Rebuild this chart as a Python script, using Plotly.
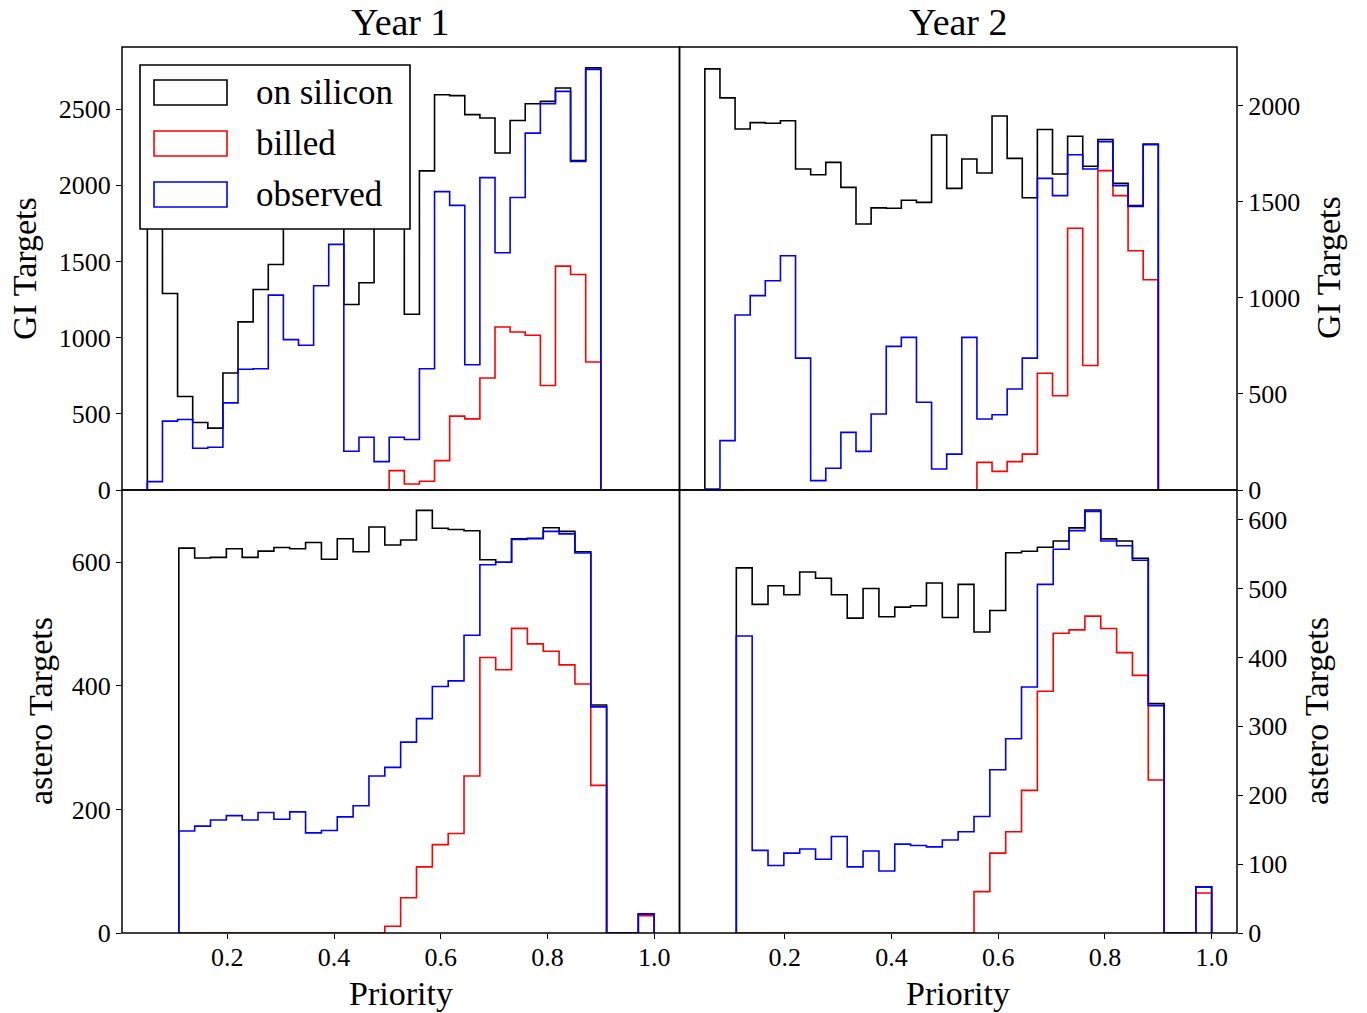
import numpy as np
import plotly.graph_objects as go
from plotly.subplots import make_subplots

# ---------------- data ----------------
series_names = ["on silicon", "billed", "observed"]

# Year 1, GI targets (30 bins, priority 0.05 .. 0.90)
gi_bins = (0.05, 0.90)
gi_y1_silicon = [1900, 1289, 614, 443, 406, 768, 1103, 1316, 1480, 1750, 1900, 1850, 1950, 1217, 1360,
                 1800, 1850, 1153, 2094, 2594, 2588, 2463, 2441, 2211, 2425, 2535, 2550, 2638, 2162, 2770]
gi_y1_billed = [0, 0, 0, 0, 0, 0, 0, 0, 0, 0, 0, 0, 0, 0, 0,
                0, 127, 39, 57, 193, 485, 467, 735, 1070, 1037, 1015, 686, 1469, 1414, 840]
gi_y1_observed = [55, 452, 463, 274, 281, 572, 792, 796, 1279, 987, 950, 1340, 1612, 254, 346,
                  186, 346, 331, 796, 1958, 1868, 822, 2050, 1557, 1919, 2342, 2535, 2616, 2156, 2759]

# Year 2, GI targets
gi_y2_silicon = [2193, 2042, 1880, 1913, 1910, 1923, 1672, 1642, 1706, 1576, 1385, 1469, 1467, 1509, 1498,
                 1849, 1571, 1724, 1651, 1948, 1727, 1522, 1877, 1646, 1842, 1686, 1825, 1597, 1481, 1802]
gi_y2_billed = [0, 0, 0, 0, 0, 0, 0, 0, 0, 0, 0, 0, 0, 0, 0,
                0, 0, 0, 144, 97, 148, 187, 608, 491, 1363, 648, 1663, 1533, 1246, 1095]
gi_y2_observed = [5, 257, 911, 1012, 1090, 1220, 687, 49, 113, 300, 201, 396, 748, 795, 457,
                  109, 187, 795, 370, 392, 526, 687, 1623, 1533, 1746, 1672, 1814, 1585, 1477, 1798]

# Year 1, astero targets (30 bins, priority 0.109 .. 1.0)
as_bins = (0.109, 1.0)
as_y1_silicon = [623, 607, 608, 622, 608, 618, 624, 622, 632, 605, 638, 617, 657, 628, 636,
                 684, 655, 653, 651, 604, 600, 638, 639, 656, 650, 617, 369, 0, 0, 31]
as_y1_billed = [0, 0, 0, 0, 0, 0, 0, 0, 0, 0, 0, 0, 0, 11, 57,
                107, 143, 161, 254, 446, 426, 493, 468, 456, 434, 403, 239, 0, 0, 28]
as_y1_observed = [165, 173, 183, 190, 183, 195, 184, 196, 162, 166, 188, 206, 254, 268, 309,
                  347, 399, 408, 482, 596, 600, 637, 638, 650, 646, 615, 366, 0, 0, 31]

# Year 2, astero targets
as_y2_silicon = [530, 477, 504, 491, 524, 515, 491, 457, 500, 459, 473, 475, 508, 458, 506,
                 437, 468, 552, 554, 560, 569, 588, 614, 572, 569, 544, 333, 0, 0, 67]
as_y2_billed = [0, 0, 0, 0, 0, 0, 0, 0, 0, 0, 0, 0, 0, 0, 0,
                60, 116, 147, 207, 351, 435, 440, 460, 442, 407, 374, 222, 0, 0, 58]
as_y2_observed = [431, 120, 98, 116, 122, 107, 140, 96, 119, 90, 129, 127, 125, 135, 147,
                  169, 237, 282, 357, 506, 557, 584, 612, 569, 562, 541, 330, 0, 0, 67]

col_titles = ["Year 1", "Year 2"]
row_labels = ["GI Targets", "astero Targets"]
x_label = "Priority"
x_ticks = [0.2, 0.4, 0.6, 0.8, 1.0]

# ---------------- styling ----------------
W, H = 1367, 1013
ML, MR, MT, MB = 122, 130, 47, 80
FONT = "Liberation Serif"
colors = ["#000000", "#ff0000", "#0000ff"]
y_ranges = [[0, 2907], [0, 2307], [0, 717], [0, 643]]
y_dticks = [500, 500, 200, 100]
x_range = [0.0025, 1.0475]


def px_x(p):
    return (p - ML) / (W - ML - MR)


def px_y(p):
    return (H - MB - p) / (H - MT - MB)


def step_xy(counts, lo, hi):
    edges = np.linspace(lo, hi, len(counts) + 1)
    xs = [edges[0]] + list(edges[:-1]) + [edges[-1], edges[-1]]
    ys = [0] + list(counts) + [counts[-1], 0]
    return xs, ys


fig = make_subplots(rows=2, cols=2, horizontal_spacing=0, vertical_spacing=0)

panels = [
    (1, 1, gi_bins, [gi_y1_silicon, gi_y1_billed, gi_y1_observed]),
    (1, 2, gi_bins, [gi_y2_silicon, gi_y2_billed, gi_y2_observed]),
    (2, 1, as_bins, [as_y1_silicon, as_y1_billed, as_y1_observed]),
    (2, 2, as_bins, [as_y2_silicon, as_y2_billed, as_y2_observed]),
]

for r, c, (lo, hi), sers in panels:
    for name, col, vals in zip(series_names, colors, sers):
        xs, ys = step_xy(vals, lo, hi)
        fig.add_trace(go.Scatter(x=xs, y=ys, mode="lines", name=name,
                                 line=dict(color=col, width=1.6, shape="hv"),
                                 showlegend=False, hoverinfo="skip"),
                      row=r, col=c)

tickfont = dict(family=FONT, size=26, color="black")
shapes = []
for i, (r, c) in enumerate([(1, 1), (1, 2), (2, 1), (2, 2)]):
    bottom = (r == 2)
    fig.update_xaxes(range=x_range, showgrid=False, zeroline=False, showline=False,
                     ticks="outside" if bottom else "", ticklen=5, tickwidth=1.3, tickcolor="black",
                     tickvals=x_ticks, ticktext=[f"{v:.1f}" for v in x_ticks],
                     showticklabels=bottom, tickfont=tickfont, ticklabelstandoff=-4,
                     row=r, col=c)
    fig.update_yaxes(range=y_ranges[i], dtick=y_dticks[i], tick0=0, showgrid=False, zeroline=False,
                     showline=False, side="left" if c == 1 else "right",
                     ticks="outside", ticklen=5, tickwidth=1.3, tickcolor="black",
                     tickfont=tickfont, row=r, col=c)
    sfx = "" if i == 0 else str(i + 1)
    shapes.append(dict(type="rect", xref=f"x{sfx} domain", yref=f"y{sfx} domain", layer="above",
                       x0=0, x1=1, y0=0, y1=1, line=dict(color="black", width=1.5),
                       fillcolor="rgba(0,0,0,0)"))

ann = []
for t, cx in zip(col_titles, [400.5, 958]):
    ann.append(dict(text=t, x=px_x(cx), y=px_y(22), xref="paper", yref="paper", showarrow=False,
                    xanchor="center", yanchor="middle", font=dict(family=FONT, size=38, color="black")))
for cx in [400.5, 958]:
    ann.append(dict(text=x_label, x=px_x(cx), y=px_y(993), xref="paper", yref="paper", showarrow=False,
                    xanchor="center", yanchor="middle", font=dict(family=FONT, size=34, color="black")))
for t, cx, cy in [(row_labels[0], 24, 268), (row_labels[1], 40, 711),
                  (row_labels[0], 1328, 268), (row_labels[1], 1316, 711)]:
    ann.append(dict(text=t, x=px_x(cx), y=px_y(cy), xref="paper", yref="paper", showarrow=False,
                    textangle=-90, xanchor="center", yanchor="middle",
                    font=dict(family=FONT, size=34, color="black")))

# legend drawn as a box with unfilled patches (matplotlib style)
shapes.append(dict(type="rect", xref="paper", yref="paper", layer="above",
                   x0=px_x(140), x1=px_x(410), y0=px_y(229), y1=px_y(65),
                   fillcolor="white", line=dict(color="black", width=1.6)))
for k, (name, col) in enumerate(zip(series_names, colors)):
    top = 80 + k * 51
    shapes.append(dict(type="rect", xref="paper", yref="paper", layer="above",
                       x0=px_x(154), x1=px_x(227), y0=px_y(top + 25), y1=px_y(top),
                       fillcolor="rgba(0,0,0,0)", line=dict(color=col, width=1.6)))
    ann.append(dict(text=name, x=px_x(254), y=px_y(top + 12.5), xref="paper", yref="paper",
                    showarrow=False, xanchor="left", yanchor="middle",
                    font=dict(family=FONT, size=35, color="black")))

fig.update_layout(width=W, height=H, margin=dict(l=ML, r=MR, t=MT, b=MB),
                  paper_bgcolor="white", plot_bgcolor="white",
                  annotations=ann, shapes=shapes, showlegend=False)

fig.write_html("out.html")
